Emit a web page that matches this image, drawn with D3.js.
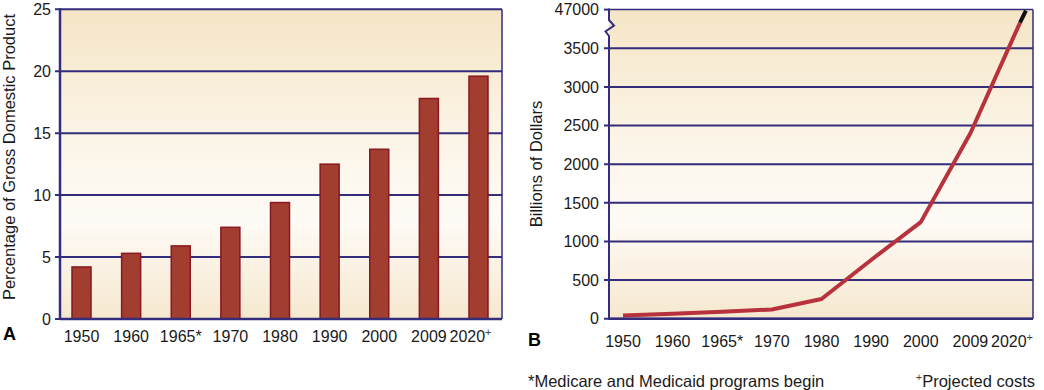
<!DOCTYPE html>
<html>
<head>
<meta charset="utf-8">
<script src="https://cdn.jsdelivr.net/npm/d3@7/dist/d3.min.js"></script>
<style>
  html, body { margin: 0; padding: 0; background: #ffffff; }
  svg { display: block; font-family: "Liberation Sans", Arial, sans-serif; }
</style>
</head>
<body>
<svg id="chart" width="1044" height="390"></svg>
<script>
// ---- Data ----
const years = ["1950", "1960", "1965", "1970", "1980", "1990", "2000", "2009", "2020"];
const yearLabels = ["1950", "1960", "1965*", "1970", "1980", "1990", "2000", "2009", "2020"];
const yearSup = ["", "", "", "", "", "", "", "", "+"];
const pctGDP = [4.2, 5.3, 5.9, 7.4, 9.4, 12.5, 13.7, 17.8, 19.6];
const spendingBillions = [40, 65, 90, 120, 255, 760, 1250, 2400, 3830];
const pctTicks = [0, 5, 10, 15, 20, 25];
const pctTickLabels = ["0", "5", "10", "15", "20", "25"];
const dollarTicks = [0, 500, 1000, 1500, 2000, 2500, 3000, 3500, 4000];
const dollarTickLabels = ["0", "500", "1000", "1500", "2000", "2500", "3000", "3500", "47000"];
const titleA = "Percentage of Gross Domestic Product";
const titleB = "Billions of Dollars";
const footLeft = "*Medicare and Medicaid programs begin";
const footRight = "Projected costs";

// ---- Style ----
const NAVY = "#332d7c";
const BAR_FILL = "#a23e30";
const BAR_STROKE = "#8a1620";
const LINE_RED = "#b7323c";
const FONT = 16;

const svg = d3.select("#chart");
const defs = svg.append("defs");
const grad = defs.append("linearGradient").attr("id", "bg").attr("x1", 0).attr("y1", 0).attr("x2", 0).attr("y2", 1);
grad.append("stop").attr("offset", "0%").attr("stop-color", "#f5e5c6");
grad.append("stop").attr("offset", "40%").attr("stop-color", "#fbf4e6");
grad.append("stop").attr("offset", "68%").attr("stop-color", "#fefbf6");
grad.append("stop").attr("offset", "100%").attr("stop-color", "#f6e8cf");

function drawXLabels(g, x, yPos) {
  const t = g.selectAll("text.xl").data(years).enter().append("text")
    .attr("class", "xl")
    .attr("x", d => x(d))
    .attr("dx", (d, i) => yearSup[i] ? -8 : 0)
    .attr("y", yPos)
    .attr("text-anchor", "middle")
    .attr("font-size", FONT)
    .attr("fill", "#1a1a1a");
  t.append("tspan").text((d, i) => yearLabels[i]);
  t.append("tspan").attr("font-size", 11).attr("dy", -6).attr("fill", "#444").text((d, i) => yearSup[i]);
}

// ================= Panel A =================
{
  const L = 60, R = 502, T = 9.3, B = 319;
  const x = d3.scalePoint().domain(years).range([81.5, 478.5]);
  const y = d3.scaleLinear().domain([0, 25]).range([B, T]);
  const g = svg.append("g");

  g.append("rect").attr("x", L).attr("y", T).attr("width", R - L).attr("height", B - T).attr("fill", "url(#bg)");

  // gridlines
  g.selectAll("line.grid").data(pctTicks).enter().append("line")
    .attr("x1", L - 5).attr("x2", R).attr("y1", d => y(d)).attr("y2", d => y(d))
    .attr("stroke", NAVY).attr("stroke-width", 2);
  // right border
  g.append("line").attr("x1", R).attr("x2", R).attr("y1", T).attr("y2", B).attr("stroke", NAVY).attr("stroke-width", 1.5);

  // bars
  const bw = 19;
  g.selectAll("rect.bar").data(pctGDP).enter().append("rect")
    .attr("x", (d, i) => x(years[i]) - bw / 2)
    .attr("y", d => y(d))
    .attr("width", bw)
    .attr("height", d => y(0) - y(d))
    .attr("fill", BAR_FILL).attr("stroke", BAR_STROKE).attr("stroke-width", 1.5);

  // bottom & left axis lines
  g.append("line").attr("x1", L).attr("x2", R).attr("y1", B).attr("y2", B).attr("stroke", NAVY).attr("stroke-width", 2.5);
  g.append("line").attr("x1", L).attr("x2", L).attr("y1", T - 1).attr("y2", B + 1).attr("stroke", NAVY).attr("stroke-width", 2.5);

  // y tick labels
  g.selectAll("text.yl").data(pctTicks).enter().append("text")
    .attr("x", 51).attr("y", d => y(d)).attr("dy", "0.36em")
    .attr("text-anchor", "end").attr("font-size", FONT).attr("fill", "#1a1a1a")
    .text((d, i) => pctTickLabels[i]);

  drawXLabels(g, x, 341.5);

  g.append("text").attr("x", 3).attr("y", 340).attr("font-size", 18).attr("font-weight", "bold").text("A");

  g.append("text").attr("transform", "translate(15,157) rotate(-90)")
    .attr("text-anchor", "middle").attr("font-size", 16.5).attr("fill", "#1a1a1a").text(titleA);
}

// ================= Panel B =================
{
  const L = 609, R = 1033, T = 9.6, B = 318.7;
  const x = d3.scalePoint().domain(years).range([623, 1020]);
  const y = d3.scaleLinear().domain([0, 4000]).range([B, T]);
  const g = svg.append("g");

  g.append("rect").attr("x", L).attr("y", T).attr("width", R - L).attr("height", B - T).attr("fill", "url(#bg)");

  g.selectAll("line.grid").data(dollarTicks).enter().append("line")
    .attr("x1", d => d === 4000 ? L : L - 5).attr("x2", R).attr("y1", d => y(d)).attr("y2", d => y(d))
    .attr("stroke", NAVY).attr("stroke-width", d => d === 4000 ? 1.5 : 2);
  g.append("line").attr("x1", R).attr("x2", R).attr("y1", T).attr("y2", B).attr("stroke", NAVY).attr("stroke-width", 1.5);
  // short tick for top label
  g.append("line").attr("x1", L - 5).attr("x2", L).attr("y1", y(4000)).attr("y2", y(4000)).attr("stroke", NAVY).attr("stroke-width", 2);

  // line
  const pts = spendingBillions.map((v, i) => [x(years[i]), y(v)]);
  const line = d3.line();
  g.append("path").attr("d", line(pts)).attr("fill", "none")
    .attr("stroke", LINE_RED).attr("stroke-width", 4).attr("stroke-linejoin", "round");
  // black extension from last point to top of plot (continuation past the break)
  const p1 = pts[pts.length - 2], p2 = pts[pts.length - 1];
  const slope = (p2[0] - p1[0]) / (p2[1] - p1[1]);
  const ext = [p2[0] + (T - p2[1]) * slope, T + 1];
  g.append("path").attr("d", line([p2, ext])).attr("fill", "none")
    .attr("stroke", "#111").attr("stroke-width", 4);

  // bottom axis
  g.append("line").attr("x1", L).attr("x2", R).attr("y1", B).attr("y2", B).attr("stroke", NAVY).attr("stroke-width", 2.5);
  // left axis with break zigzag
  const zig = d3.path();
  zig.moveTo(L, T - 1);
  zig.lineTo(L, 20);
  zig.lineTo(L + 5, 25.5);
  zig.lineTo(L - 3.5, 31.5);
  zig.lineTo(L, 36);
  zig.lineTo(L, B + 1);
  g.append("path").attr("d", zig.toString()).attr("fill", "none").attr("stroke", NAVY).attr("stroke-width", 2);

  g.selectAll("text.yl").data(dollarTicks).enter().append("text")
    .attr("x", 599).attr("y", d => y(d)).attr("dy", "0.36em")
    .attr("text-anchor", "end").attr("font-size", FONT).attr("fill", "#1a1a1a")
    .text((d, i) => dollarTickLabels[i]);

  drawXLabels(g, x, 346.5);

  g.append("text").attr("x", 528).attr("y", 346).attr("font-size", 18).attr("font-weight", "bold").text("B");

  g.append("text").attr("transform", "translate(542,164) rotate(-90)")
    .attr("text-anchor", "middle").attr("font-size", 16.5).attr("fill", "#1a1a1a").text(titleB);

  // footnotes
  svg.append("text").attr("x", 528).attr("y", 386.5).attr("font-size", 16.5).attr("fill", "#1a1a1a").text(footLeft);
  const fr = svg.append("text").attr("x", 1035).attr("y", 386.5).attr("text-anchor", "end").attr("font-size", 16.5).attr("fill", "#1a1a1a");
  fr.append("tspan").attr("font-size", 11).attr("dy", -6).attr("fill", "#444").text("+");
  fr.append("tspan").attr("dy", 6).text(footRight);
}
</script>
</body>
</html>
